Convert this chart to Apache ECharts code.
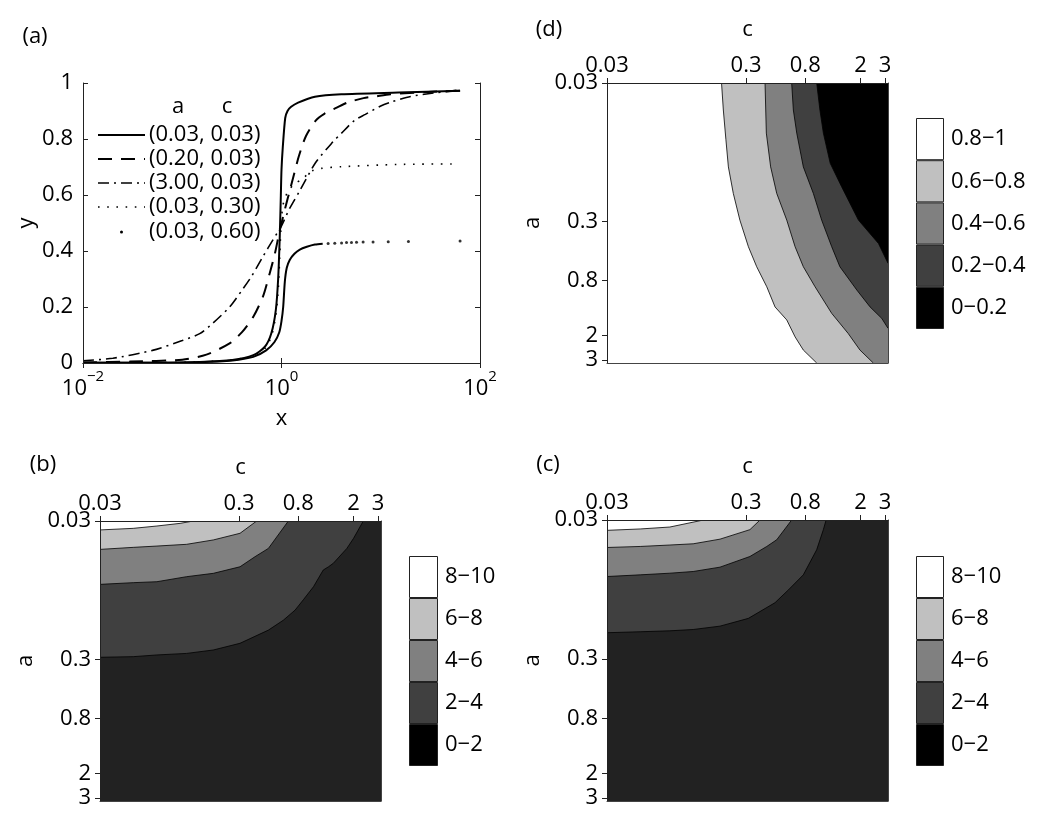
<!DOCTYPE html>
<html><head><meta charset="utf-8">
<script src="https://cdn.jsdelivr.net/npm/echarts@6/dist/echarts.min.js"></script>
<style>html,body{margin:0;padding:0;background:#fff}#c{width:1038px;height:816px}</style>
</head><body><div id="c"></div>
<script>
// ---------------- DATA ----------------
// Panel (a): y vs x for (a, c) parameter pairs
const legendNames = ['(0.03, 0.03)', '(0.20, 0.03)', '(3.00, 0.03)', '(0.03, 0.30)', '(0.03, 0.60)'];
const curveA003C003 = [[0.01,0.0005],[0.05,0.001],[0.15,0.004],[0.32,0.011],[0.52,0.028],[0.68,0.058],[0.79,0.106],[0.877,0.19],[0.925,0.3],[0.96,0.45],[0.985,0.6],[1.0,0.69],[1.03,0.77],[1.09,0.875],[1.15,0.9],[1.25,0.915],[1.47,0.93],[2.17,0.951],[4.0,0.96],[15,0.966],[63,0.972]];
const curveA020C003 = [[0.01,0.002],[0.03,0.005],[0.1,0.012],[0.175,0.03],[0.3,0.07],[0.4,0.11],[0.52,0.165],[0.65,0.237],[0.76,0.32],[0.857,0.39],[0.946,0.463],[1.05,0.53],[1.12,0.57],[1.2,0.61],[1.35,0.68],[1.5,0.74],[1.76,0.81],[2.2,0.865],[2.7,0.89],[3.6,0.912],[4.6,0.93],[6.7,0.946],[8.8,0.952],[12.5,0.96],[30,0.968],[63,0.972]];
const curveA300C003 = [[0.01,0.008],[0.02,0.017],[0.05,0.045],[0.1,0.08],[0.15,0.105],[0.2,0.14],[0.3,0.2],[0.4,0.26],[0.5,0.31],[0.65,0.38],[0.82,0.44],[1.0,0.49],[1.2,0.55],[1.5,0.61],[2.2,0.715],[3.3,0.79],[4.0,0.82],[5.5,0.868],[7,0.888],[10,0.918],[13,0.933],[20,0.952],[34,0.964],[63,0.975]];
const curveA003C030 = [[0.01,0.0005],[0.05,0.001],[0.15,0.004],[0.32,0.011],[0.52,0.026],[0.68,0.052],[0.79,0.095],[0.877,0.17],[0.93,0.27],[0.96,0.38],[0.98,0.46],[1.03,0.56],[1.15,0.61],[1.35,0.64],[1.59,0.655],[2.0,0.685],[2.5,0.695],[4.0,0.701],[14.5,0.709],[55,0.711]];
const curveA003C060Dense = [[0.01,0.0005],[0.05,0.001],[0.15,0.003],[0.32,0.009],[0.52,0.022],[0.7,0.045],[0.85,0.075],[0.95,0.11],[1.0,0.15],[1.04,0.2],[1.08,0.29],[1.13,0.34],[1.21,0.368],[1.35,0.39],[1.53,0.405],[1.8,0.415],[2.17,0.423],[2.6,0.426]];
const curveA003C060Points = [[2.95,0.427],[3.44,0.428],[4.03,0.429],[4.52,0.43],[5.07,0.43],[5.7,0.431],[6.64,0.432],[8.37,0.432],[11.9,0.433],[19,0.434],[63,0.436]];
const xTicksA = [0.01, 1, 100];

// Contour panels: parameter axes (c horizontal, a vertical)
const paramTicks = [0.03, 0.3, 0.8, 2, 3];
const PARAM_MIN = 0.03, PARAM_MAX = 3.15;

// Panel (d): contour boundaries [c, a]
const dLevel08 = [[0.200,0.03],[0.206,0.047],[0.215,0.077],[0.224,0.121],[0.243,0.188],[0.271,0.293],[0.312,0.456],[0.358,0.636],[0.423,0.887],[0.485,1.24],[0.589,1.54],[0.676,2.04],[0.775,2.54],[0.967,3.15]];
const dLevel06 = [[0.411,0.03],[0.420,0.069],[0.451,0.121],[0.499,0.188],[0.589,0.293],[0.676,0.456],[0.775,0.636],[0.941,0.887],[1.24,1.38],[1.63,1.93],[1.98,2.54],[2.47,3.15]];
const dLevel04 = [[0.639,0.03],[0.657,0.047],[0.695,0.069],[0.775,0.121],[0.915,0.188],[1.05,0.293],[1.24,0.456],[1.42,0.636],[1.88,0.937],[2.34,1.24],[2.84,1.50],[3.15,1.77]];
const dLevel02 = [[0.967,0.03],[1.02,0.047],[1.08,0.069],[1.21,0.114],[1.46,0.168],[1.93,0.293],[2.69,0.432],[3.15,0.601]];
// Panel (b)
const bLevel8 = [[0.03,0.0348],[0.052,0.0339],[0.077,0.0326],[0.113,0.0312],[0.141,0.03]];
const bLevel6 = [[0.03,0.0481],[0.052,0.0465],[0.077,0.0455],[0.126,0.0442],[0.196,0.0411],[0.305,0.0368],[0.402,0.03]];
const bLevel4 = [[0.03,0.0860],[0.052,0.0836],[0.077,0.0823],[0.126,0.0757],[0.196,0.0716],[0.305,0.0642],[0.391,0.0543],[0.488,0.0473],[0.679,0.03]];
const bLevel2 = [[0.03,0.289],[0.052,0.286],[0.077,0.278],[0.126,0.271],[0.196,0.256],[0.305,0.229],[0.488,0.184],[0.625,0.156],[0.759,0.132],[0.871,0.111],[1.03,0.0894],[1.21,0.0678],[1.32,0.0642],[1.43,0.0606],[1.79,0.0473],[2.00,0.040],[2.35,0.03]];
// Panel (c)
const cLevel8 = [[0.03,0.0356],[0.052,0.0348],[0.085,0.0337],[0.148,0.03]];
const cLevel6 = [[0.03,0.0473],[0.052,0.0465],[0.085,0.0454],[0.125,0.0445],[0.195,0.0412],[0.320,0.0352],[0.378,0.03]];
const cLevel4 = [[0.03,0.0765],[0.052,0.0744],[0.085,0.0724],[0.125,0.0704],[0.195,0.0655],[0.320,0.0549],[0.423,0.0465],[0.499,0.0416],[0.639,0.03]];
const cLevel2 = [[0.03,0.194],[0.052,0.191],[0.085,0.188],[0.125,0.184],[0.195,0.174],[0.312,0.153],[0.485,0.118],[0.605,0.0955],[0.775,0.0744],[0.967,0.0491],[1.08,0.0352],[1.13,0.03]];

// Colour bars (bottom to top)
const dBarLabels = ['0\u22120.2', '0.2\u22120.4', '0.4\u22120.6', '0.6\u22120.8', '0.8\u22121'];
const bcBarLabels = ['0\u22122', '2\u22124', '4\u22126', '6\u22128', '8\u221210'];
const barColors = ['#000000', '#404040', '#808080', '#c0c0c0', '#ffffff'];

// ---------------- BUILD ----------------
const FONT = '"Open Sans", "Noto Sans", sans-serif';
const FS = 22;
const TXT = {fontFamily: FONT, fontSize: FS, color: '#000'};
const AXC = '#222';
const grids = [], xAxes = [], yAxes = [], series = [], graphics = [];
const addGrid = g => { grids.push(Object.assign({show: false, outerBoundsMode: 'none', containLabel: false}, g)); return grids.length - 1; };
const addX = a => { xAxes.push(a); return xAxes.length - 1; };
const addY = a => { yAxes.push(a); return yAxes.length - 1; };
const fmtNum = v => String(+(+v).toPrecision(3));

// ---- Panel (a)
const gA = addGrid({left: 83, top: 83, width: 397, height: 280});
const xA = addX({type: 'log', logBase: 10, gridIndex: gA, min: 0.01, max: 100, position: 'bottom', z: 10,
  axisLine: {show: true, lineStyle: {color: AXC, width: 1}},
  axisTick: {show: true, inside: true, length: 5, customValues: xTicksA, lineStyle: {color: AXC}},
  axisLabel: {show: true, customValues: xTicksA, margin: 6,
    formatter: v => '{b|10}{s|' + String(Math.round(Math.log10(v))).replace('-', '\u2212') + '}',
    rich: {b: {fontFamily: FONT, fontSize: FS, color: '#000', lineHeight: 31, verticalAlign: 'bottom'},
           s: {fontFamily: FONT, fontSize: 15, color: '#000', lineHeight: 16, verticalAlign: 'top'}}},
  splitLine: {show: false}, minorTick: {show: false},
  name: 'x', nameLocation: 'middle', nameGap: 45, nameTextStyle: TXT});
addX({type: 'log', logBase: 10, gridIndex: gA, min: 0.01, max: 100, position: 'top', z: 10,
  axisLine: {show: true, lineStyle: {color: AXC, width: 1}},
  axisTick: {show: true, inside: true, length: 5, customValues: xTicksA, lineStyle: {color: AXC}},
  axisLabel: {show: false}, splitLine: {show: false}, minorTick: {show: false}});
const yA = addY({type: 'value', gridIndex: gA, min: 0, max: 1, interval: 0.2, position: 'left', z: 10,
  axisLine: {show: true, lineStyle: {color: AXC, width: 1}},
  axisTick: {show: true, inside: true, length: 5, lineStyle: {color: AXC}},
  axisLabel: Object.assign({margin: 10}, TXT), splitLine: {show: false},
  name: 'y', nameLocation: 'middle', nameGap: 44, nameTextStyle: TXT});
addY({type: 'value', gridIndex: gA, min: 0, max: 1, interval: 0.2, position: 'right', z: 10,
  axisLine: {show: true, lineStyle: {color: AXC, width: 1}},
  axisTick: {show: true, inside: true, length: 5, lineStyle: {color: AXC}},
  axisLabel: {show: false}, splitLine: {show: false}});

const lineStyles = [
  {width: 2, type: 'solid'},
  {width: 2, type: [14, 9]},
  {width: 1.6, type: [11, 5, 2, 5]},
  {width: 1.6, type: [1.6, 7.6]}
];
const curves = [curveA003C003, curveA020C003, curveA300C003, curveA003C030];
curves.forEach((d, i) => {
  series.push({type: 'line', name: legendNames[i], xAxisIndex: xA, yAxisIndex: yA, data: d,
    symbol: 'none', smooth: 0.25, silent: true, z: 3 + (4 - i),
    lineStyle: Object.assign({color: '#000'}, lineStyles[i])});
});
series.push({type: 'line', name: legendNames[4] + ' ', xAxisIndex: xA, yAxisIndex: yA, data: curveA003C060Dense,
  symbol: 'none', smooth: 0.25, silent: true, z: 3, lineStyle: {color: '#000', width: 2}});
series.push({type: 'scatter', name: legendNames[4], xAxisIndex: xA, yAxisIndex: yA, data: curveA003C060Points,
  symbol: 'circle', symbolSize: 3, silent: true, itemStyle: {color: '#000'}});

// legend (drawn as graphic so the sample styles match)
const legendX0 = 98, legendX1 = 145, legendRowY = [135, 159, 183, 207, 232];
const centered = {fontFamily: FONT, fontSize: FS, fill: '#000', align: 'center', verticalAlign: 'middle', textAlign: 'center', textVerticalAlign: 'middle'};
graphics.push({type: 'text', x: 178, y: 107, style: Object.assign({text: 'a'}, centered)});
graphics.push({type: 'text', x: 227, y: 107, style: Object.assign({text: 'c'}, centered)});
legendNames.forEach((nm, i) => {
  const y = legendRowY[i];
  if (i < 4) {
    const ls = lineStyles[i];
    graphics.push({type: 'line', shape: {x1: legendX0, y1: y, x2: legendX1, y2: y},
      style: {stroke: '#000', lineWidth: ls.width, lineDash: Array.isArray(ls.type) ? ls.type : null}});
  } else {
    graphics.push({type: 'circle', shape: {cx: (legendX0 + legendX1) / 2, cy: y, r: 1.5}, style: {fill: '#000'}});
  }
  graphics.push({type: 'text', x: 149, y: y, style: {text: nm, fontFamily: FONT, fontSize: FS, fill: '#000', verticalAlign: 'middle', textVerticalAlign: 'middle'}});
});

// ---- Contour panels
function paramAxesX(g) {
  const top = addX({type: 'log', logBase: 10, gridIndex: g, min: PARAM_MIN, max: PARAM_MAX, position: 'top', z: 10,
    axisLine: {show: true, lineStyle: {color: AXC, width: 1}},
    axisTick: {show: true, inside: false, length: 5, customValues: paramTicks, lineStyle: {color: AXC}},
    axisLabel: Object.assign({show: true, customValues: paramTicks, margin: 6, formatter: fmtNum}, TXT),
    splitLine: {show: false}, minorTick: {show: false},
    name: 'c', nameLocation: 'middle', nameGap: 42, nameTextStyle: TXT});
  addX({type: 'log', logBase: 10, gridIndex: g, min: PARAM_MIN, max: PARAM_MAX, position: 'bottom', z: 10,
    axisLine: {show: true, lineStyle: {color: '#444', width: 1}}, axisTick: {show: false}, axisLabel: {show: false},
    splitLine: {show: false}, minorTick: {show: false}});
  return top;
}
function paramAxesY(g) {
  const left = addY({type: 'log', logBase: 10, gridIndex: g, min: PARAM_MIN, max: PARAM_MAX, inverse: true, position: 'left', z: 10,
    axisLine: {show: true, lineStyle: {color: AXC, width: 1}},
    axisTick: {show: true, inside: false, length: 5, customValues: paramTicks, lineStyle: {color: AXC}},
    axisLabel: Object.assign({show: true, customValues: paramTicks, margin: 9, formatter: fmtNum}, TXT),
    splitLine: {show: false}, minorTick: {show: false},
    name: 'a', nameLocation: 'middle', nameGap: 63, nameTextStyle: TXT});
  addY({type: 'log', logBase: 10, gridIndex: g, min: PARAM_MIN, max: PARAM_MAX, inverse: true, position: 'right', z: 10,
    axisLine: {show: true, lineStyle: {color: '#444', width: 1}}, axisTick: {show: false}, axisLabel: {show: false},
    splitLine: {show: false}, minorTick: {show: false}});
  return left;
}
// mode 'right': fill region to the right of the boundary; 'below': region under the boundary
function contourSeries(xi, yi, pts, color, mode, z) {
  return {type: 'custom', xAxisIndex: xi, yAxisIndex: yi, data: pts, silent: true, z: z, clip: true,
    renderItem: function (params, api) {
      if (params.dataIndex !== 0) return null;
      const line = pts.map(p => api.coord(p));
      const last = pts[pts.length - 1];
      let poly;
      if (mode === 'right') {
        poly = line.concat([api.coord([PARAM_MAX, last[1]]), api.coord([PARAM_MAX, PARAM_MIN])]);
      } else {
        poly = line.concat([api.coord([PARAM_MAX, last[1]]), api.coord([PARAM_MAX, PARAM_MAX]), api.coord([PARAM_MIN, PARAM_MAX])]);
      }
      return {type: 'group', children: [
        {type: 'polygon', shape: {points: poly}, style: {fill: color, stroke: null}},
        {type: 'polyline', shape: {points: line}, style: {stroke: '#000', lineWidth: 0.8, fill: null}}
      ]};
    }};
}
function colorBar(box, labels) {
  const g = addGrid(box);
  const xi = addX({type: 'value', gridIndex: g, min: 0, max: 1, show: false});
  const yi = addY({type: 'category', gridIndex: g, data: labels, position: 'right',
    axisLine: {show: false}, axisTick: {show: false}, splitLine: {show: false},
    axisLabel: Object.assign({margin: 7}, TXT)});
  series.push({type: 'bar', xAxisIndex: xi, yAxisIndex: yi, silent: true, barWidth: '100%',
    itemStyle: {borderColor: '#222', borderWidth: 1},
    data: barColors.map(c => ({value: 1, itemStyle: {color: c}}))});
}

// (d)
const gD = addGrid({left: 607, top: 83, width: 281, height: 280, show: true, backgroundColor: '#fff', borderWidth: 0});
const xD = paramAxesX(gD), yD = paramAxesY(gD);
[[dLevel08, '#c0c0c0'], [dLevel06, '#808080'], [dLevel04, '#404040'], [dLevel02, '#000000']]
  .forEach((l, i) => series.push(contourSeries(xD, yD, l[0], l[1], 'right', 2 + i * 0.01)));
colorBar({left: 916, top: 118, width: 28, height: 211}, dBarLabels);

// (b)
const gB = addGrid({left: 100, top: 521, width: 281, height: 280, show: true, backgroundColor: '#fff', borderWidth: 0});
const xB = paramAxesX(gB), yB = paramAxesY(gB);
[[bLevel8, '#c0c0c0'], [bLevel6, '#808080'], [bLevel4, '#404040'], [bLevel2, '#222222']]
  .forEach((l, i) => series.push(contourSeries(xB, yB, l[0], l[1], 'below', 2 + i * 0.01)));
colorBar({left: 409, top: 556, width: 29, height: 210}, bcBarLabels);

// (c)
const gC = addGrid({left: 607, top: 520, width: 281, height: 281, show: true, backgroundColor: '#fff', borderWidth: 0});
const xC = paramAxesX(gC), yC = paramAxesY(gC);
[[cLevel8, '#c0c0c0'], [cLevel6, '#808080'], [cLevel4, '#404040'], [cLevel2, '#222222']]
  .forEach((l, i) => series.push(contourSeries(xC, yC, l[0], l[1], 'below', 2 + i * 0.01)));
colorBar({left: 916, top: 556, width: 28, height: 210}, bcBarLabels);

// panel labels
[['(a)', 35, 37], ['(d)', 549, 30], ['(b)', 43, 465], ['(c)', 548, 465]].forEach(t => {
  graphics.push({type: 'text', x: t[1], y: t[2], style: Object.assign({text: t[0]}, centered)});
});

const chart = echarts.init(document.getElementById('c'), null, {renderer: 'canvas', width: 1038, height: 816});
chart.setOption({
  animation: false,
  backgroundColor: '#fff',
  textStyle: {fontFamily: FONT},
  grid: grids, xAxis: xAxes, yAxis: yAxes, series: series, graphic: graphics
});
</script></body></html>
